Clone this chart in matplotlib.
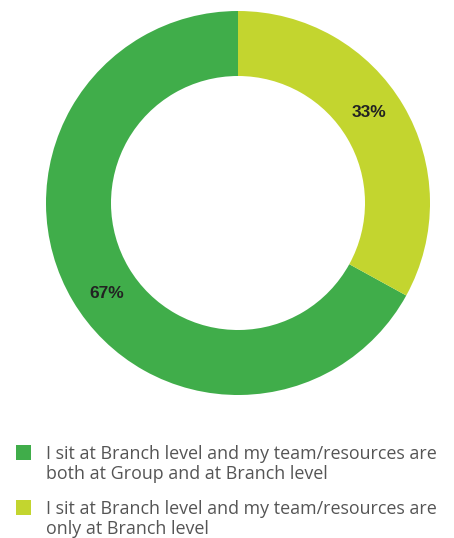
import numpy as np
import matplotlib.pyplot as plt
from matplotlib.patches import Rectangle

# survey answers
labels = ["I sit at Branch level and my team/resources are\nboth at Group and at Branch level",
          "I sit at Branch level and my team/resources are\nonly at Branch level"]
values = [67, 33]
colors = ["#40ad4a", "#c3d52f"]

plt.rcParams['font.family'] = ['Open Sans', 'DejaVu Sans']

W, H = 454, 538
fig = plt.figure(figsize=(W / 100, H / 100), dpi=100)

# donut: centre (238, 203) px, outer radius 192 px
cx, cy, r = 238, 203, 192
ax = fig.add_axes([(cx - r) / W, (H - cy - r) / H, 2 * r / W, 2 * r / H])
wedges, _ = ax.pie(values, colors=colors, startangle=90, counterclock=True,
                   radius=1.0, wedgeprops=dict(width=65 / 192, linewidth=0))
ax.set_xlim(-1, 1)
ax.set_ylim(-1, 1)
ax.set_aspect('equal')
ax.axis('off')

# percentage labels on the ring
mid_r = 1 - 65 / 192 / 2
for w, v in zip(wedges, values):
    ang = np.deg2rad((w.theta1 + w.theta2) / 2 + 4)
    ax.text(mid_r * np.cos(ang), mid_r * np.sin(ang), f"{v}%",
            ha='center', va='center', fontsize=12.5, fontweight='bold',
            family=['Liberation Sans', 'DejaVu Sans'], color='#222222')

# legend
for i, (lab, col) in enumerate(zip(labels, colors)):
    y = 452 + i * 55
    fig.add_artist(Rectangle((16 / W, 1 - (y + 7.5) / H), 15 / W, 15 / H,
                             transform=fig.transFigure, facecolor=col, edgecolor='none'))
    fig.text(46 / W, 1 - (y + 12) / H, lab, ha='left', va='center',
             fontsize=12.9, color='#555555', linespacing=1.1)

fig.savefig("out.png", dpi=100)
